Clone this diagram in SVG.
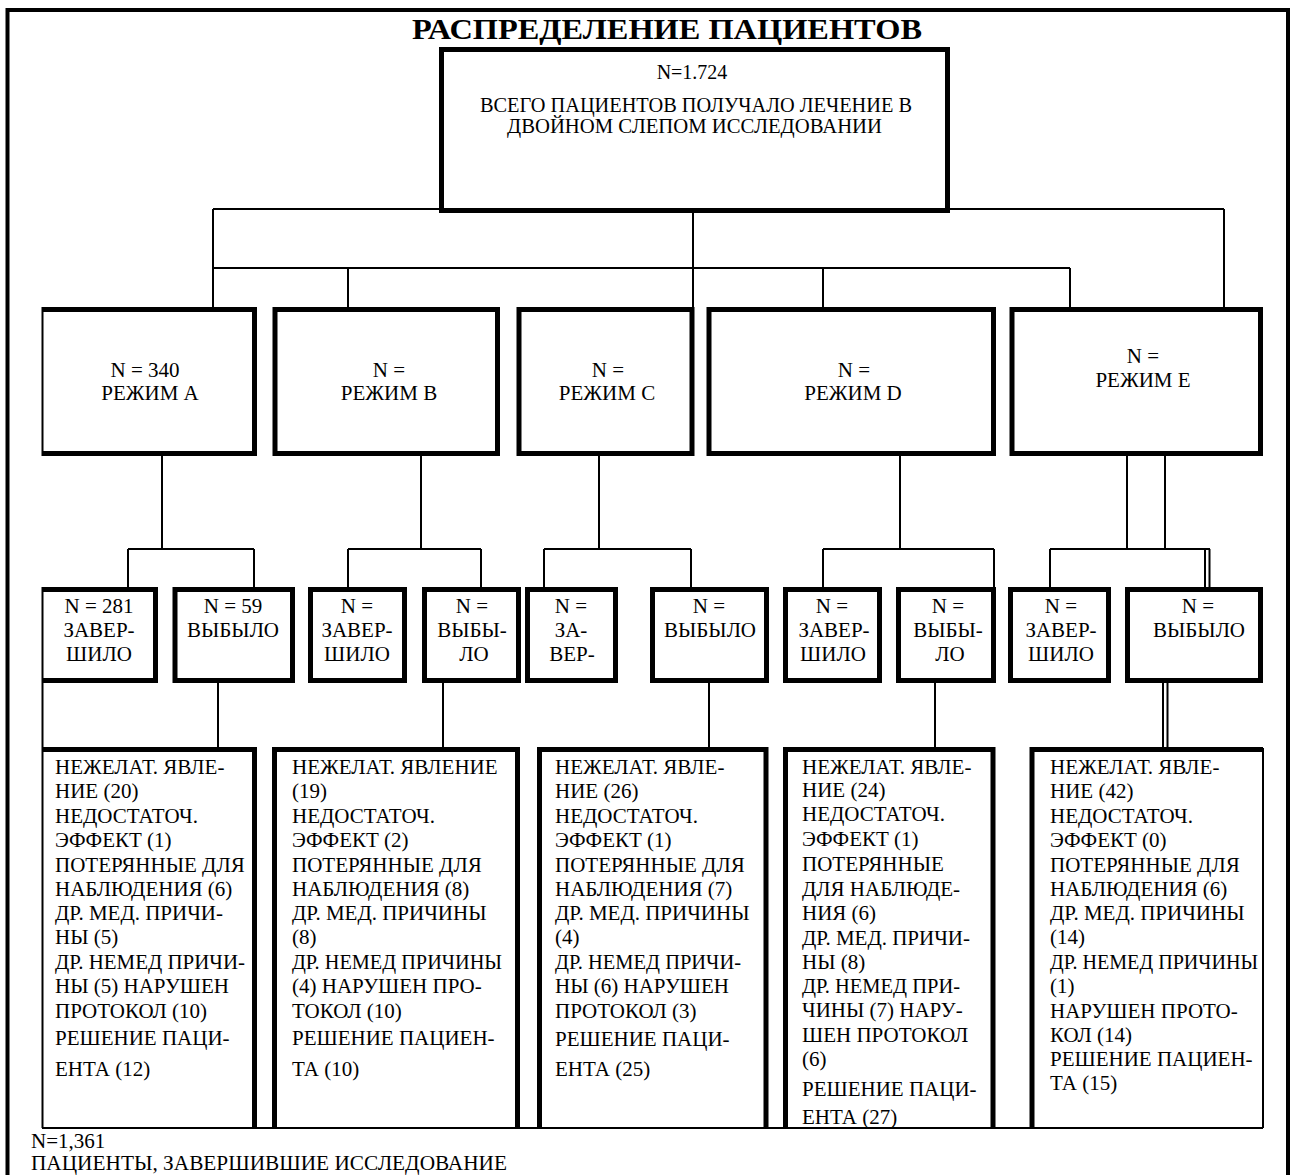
<svg xmlns="http://www.w3.org/2000/svg" width="1293" height="1175" viewBox="0 0 1293 1175">
<style>
text{font-family:"Liberation Serif","Times New Roman",serif;fill:#000}
.t{font-size:21px}
.m{text-anchor:middle}
.title{font-size:30px;font-weight:bold;text-anchor:middle}
.thick{fill:none;stroke:#000;stroke-width:5;stroke-linejoin:miter}
.thin{fill:none;stroke:#000;stroke-width:2}
.frame{fill:none;stroke:#000;stroke-width:4}
</style>
<rect x="0" y="0" width="1293" height="1175" fill="#fff"/>
<path class="frame" d="M7.5,1175 V10 H1288 V1175"/>
<text class="title" x="667" y="39" textLength="510" lengthAdjust="spacingAndGlyphs">РАСПРЕДЕЛЕНИЕ ПАЦИЕНТОВ</text>

<g id="connectors">
<path class="thin" d="M213,209 H1224 M213,209 V307 M1224,209 V307 M693,209 V307 M213,268 H1070 M348,268 V307 M823,268 V307 M1070,268 V307"/>
<path class="thin" d="M162,456 V549 M128,549 H254 M128,549 V587 M254,549 V587"/>
<path class="thin" d="M421,456 V549 M348,549 H481 M348,549 V587 M481,549 V587"/>
<path class="thin" d="M599,456 V549 M544,549 H691 M544,549 V587 M691,549 V587"/>
<path class="thin" d="M900,456 V549 M823,549 H994 M823,549 V587 M994,549 V587"/>
<path class="thin" d="M1127,456 V549 M1165,456 V549 M1050,549 H1210 M1050,549 V587 M1205,549 V587 M1209.5,549 V587"/>
<path class="thin" d="M218,683 V747 M443,683 V747 M709,683 V747 M935,683 V747 M1163,683 V747 M1167.5,683 V747"/>
<path class="thin" d="M42.5,307 V456 M42.5,587 V1128 M42,1128 H1263"/>
</g>

<g id="top">
<rect class="thick" x="441.5" y="49.5" width="506" height="161"/>
<text class="t m" x="692" y="79" style="font-size:20px">N=1.724</text>
<text class="t" x="480" y="112" style="font-size:20px" textLength="432" lengthAdjust="spacingAndGlyphs">ВСЕГО ПАЦИЕНТОВ ПОЛУЧАЛО ЛЕЧЕНИЕ В</text>
<text class="t" x="507" y="133" style="font-size:20px" textLength="375" lengthAdjust="spacingAndGlyphs">ДВОЙНОМ СЛЕПОМ ИССЛЕДОВАНИИ</text>
</g>

<g id="regA">
<path class="thick" d="M42,309.5 H254.5 V453.5 H42"/>
<text class="t m" x="145" y="377">N = 340</text>
<text class="t m" x="150" y="400">РЕЖИМ А</text>
</g>
<g id="regB">
<rect class="thick" x="275" y="309.5" width="222.5" height="144"/>
<text class="t m" x="389" y="377">N =</text>
<text class="t m" x="389" y="400">РЕЖИМ B</text>
</g>
<g id="regC">
<rect class="thick" x="519" y="309.5" width="173" height="144"/>
<text class="t m" x="608" y="377">N =</text>
<text class="t m" x="607" y="400">РЕЖИМ C</text>
</g>
<g id="regD">
<rect class="thick" x="709" y="309.5" width="284.5" height="144"/>
<text class="t m" x="854" y="377">N =</text>
<text class="t m" x="853" y="400">РЕЖИМ D</text>
</g>
<g id="regE">
<rect class="thick" x="1012" y="309.5" width="248.5" height="144"/>
<text class="t m" x="1143" y="363">N =</text>
<text class="t m" x="1143" y="387">РЕЖИМ E</text>
</g>

<g id="subA1">
<path class="thick" d="M42,589.5 H155.5 V680.5 H42"/>
<text class="t m" x="99" y="613">N = 281</text>
<text class="t m" x="99" y="637">ЗАВЕР-</text>
<text class="t m" x="99" y="661">ШИЛО</text>
</g>
<g id="subA2">
<rect class="thick" x="175" y="589.5" width="117.5" height="91"/>
<text class="t m" x="233" y="613">N = 59</text>
<text class="t m" x="233" y="637">ВЫБЫЛО</text>
</g>
<g id="subB1">
<rect class="thick" x="310.5" y="589.5" width="94" height="91"/>
<text class="t m" x="357" y="613">N =</text>
<text class="t m" x="357" y="637">ЗАВЕР-</text>
<text class="t m" x="357" y="661">ШИЛО</text>
</g>
<g id="subB2">
<rect class="thick" x="424.5" y="589.5" width="94" height="91"/>
<text class="t m" x="472" y="613">N =</text>
<text class="t m" x="472" y="637">ВЫБЫ-</text>
<text class="t m" x="474" y="661">ЛО</text>
</g>
<g id="subC1">
<rect class="thick" x="527.5" y="589.5" width="88" height="91"/>
<text class="t m" x="571" y="613">N =</text>
<text class="t m" x="571" y="637">ЗА-</text>
<text class="t m" x="572" y="661">ВЕР-</text>
</g>
<g id="subC2">
<rect class="thick" x="652.5" y="589.5" width="114" height="91"/>
<text class="t m" x="709" y="613">N =</text>
<text class="t m" x="710" y="637">ВЫБЫЛО</text>
</g>
<g id="subD1">
<rect class="thick" x="785.5" y="589.5" width="94" height="91"/>
<text class="t m" x="832" y="613">N =</text>
<text class="t m" x="834" y="637">ЗАВЕР-</text>
<text class="t m" x="833" y="661">ШИЛО</text>
</g>
<g id="subD2">
<rect class="thick" x="898.5" y="589.5" width="95" height="91"/>
<text class="t m" x="948" y="613">N =</text>
<text class="t m" x="948" y="637">ВЫБЫ-</text>
<text class="t m" x="950" y="661">ЛО</text>
</g>
<g id="subE1">
<rect class="thick" x="1010.5" y="589.5" width="98" height="91"/>
<text class="t m" x="1061" y="613">N =</text>
<text class="t m" x="1061" y="637">ЗАВЕР-</text>
<text class="t m" x="1061" y="661">ШИЛО</text>
</g>
<g id="subE2">
<rect class="thick" x="1127.5" y="589.5" width="133" height="91"/>
<text class="t m" x="1198" y="613">N =</text>
<text class="t m" x="1199" y="637">ВЫБЫЛО</text>
</g>

<g id="detA">
<path class="thick" d="M42,749.5 H254.5 V1128"/>
<text class="t">
<tspan x="55" y="774">НЕЖЕЛАТ. ЯВЛЕ-</tspan>
<tspan x="55" y="798">НИЕ (20)</tspan>
<tspan x="55" y="823">НЕДОСТАТОЧ.</tspan>
<tspan x="55" y="847">ЭФФЕКТ (1)</tspan>
<tspan x="55" y="872">ПОТЕРЯННЫЕ ДЛЯ</tspan>
<tspan x="55" y="896">НАБЛЮДЕНИЯ (6)</tspan>
<tspan x="55" y="920">ДР. МЕД. ПРИЧИ-</tspan>
<tspan x="55" y="944">НЫ (5)</tspan>
<tspan x="55" y="993">НЫ (5) НАРУШЕН</tspan>
<tspan x="55" y="1018">ПРОТОКОЛ (10)</tspan>
<tspan x="55" y="1045">РЕШЕНИЕ ПАЦИ-</tspan>
<tspan x="55" y="1076">ЕНТА (12)</tspan>
</text>
<text class="t" x="55" y="969" textLength="190" lengthAdjust="spacingAndGlyphs">ДР. НЕМЕД ПРИЧИ-</text>
</g>
<g id="detB">
<path class="thick" d="M274.5,1128 V749.5 H517.5 V1128"/>
<text class="t">
<tspan x="292" y="774">НЕЖЕЛАТ. ЯВЛЕНИЕ</tspan>
<tspan x="292" y="798">(19)</tspan>
<tspan x="292" y="823">НЕДОСТАТОЧ.</tspan>
<tspan x="292" y="847">ЭФФЕКТ (2)</tspan>
<tspan x="292" y="872">ПОТЕРЯННЫЕ ДЛЯ</tspan>
<tspan x="292" y="896">НАБЛЮДЕНИЯ (8)</tspan>
<tspan x="292" y="920">ДР. МЕД. ПРИЧИНЫ</tspan>
<tspan x="292" y="944">(8)</tspan>
<tspan x="292" y="993">(4) НАРУШЕН ПРО-</tspan>
<tspan x="292" y="1018">ТОКОЛ (10)</tspan>
<tspan x="292" y="1045">РЕШЕНИЕ ПАЦИЕН-</tspan>
<tspan x="292" y="1076">ТА (10)</tspan>
</text>
<text class="t" x="292" y="969" textLength="210" lengthAdjust="spacingAndGlyphs">ДР. НЕМЕД ПРИЧИНЫ</text>
</g>
<g id="detC">
<path class="thick" d="M539.5,1128 V749.5 H766 V1128"/>
<text class="t">
<tspan x="555" y="774">НЕЖЕЛАТ. ЯВЛЕ-</tspan>
<tspan x="555" y="798">НИЕ (26)</tspan>
<tspan x="555" y="823">НЕДОСТАТОЧ.</tspan>
<tspan x="555" y="847">ЭФФЕКТ (1)</tspan>
<tspan x="555" y="872">ПОТЕРЯННЫЕ ДЛЯ</tspan>
<tspan x="555" y="896">НАБЛЮДЕНИЯ (7)</tspan>
<tspan x="555" y="920">ДР. МЕД. ПРИЧИНЫ</tspan>
<tspan x="555" y="944">(4)</tspan>
<tspan x="555" y="993">НЫ (6) НАРУШЕН</tspan>
<tspan x="555" y="1018">ПРОТОКОЛ (3)</tspan>
<tspan x="555" y="1046">РЕШЕНИЕ ПАЦИ-</tspan>
<tspan x="555" y="1076">ЕНТА (25)</tspan>
</text>
<text class="t" x="555" y="969" textLength="186" lengthAdjust="spacingAndGlyphs">ДР. НЕМЕД ПРИЧИ-</text>
</g>
<g id="detD">
<path class="thick" d="M785.5,1128 V749.5 H993 V1128"/>
<text class="t">
<tspan x="802" y="774">НЕЖЕЛАТ. ЯВЛЕ-</tspan>
<tspan x="802" y="797">НИЕ (24)</tspan>
<tspan x="802" y="821">НЕДОСТАТОЧ.</tspan>
<tspan x="802" y="846">ЭФФЕКТ (1)</tspan>
<tspan x="802" y="871">ПОТЕРЯННЫЕ</tspan>
<tspan x="802" y="896">ДЛЯ НАБЛЮДЕ-</tspan>
<tspan x="802" y="920">НИЯ (6)</tspan>
<tspan x="802" y="945">ДР. МЕД. ПРИЧИ-</tspan>
<tspan x="802" y="969">НЫ (8)</tspan>
<tspan x="802" y="1017">ЧИНЫ (7) НАРУ-</tspan>
<tspan x="802" y="1042">ШЕН ПРОТОКОЛ</tspan>
<tspan x="802" y="1066">(6)</tspan>
<tspan x="802" y="1096">РЕШЕНИЕ ПАЦИ-</tspan>
<tspan x="802" y="1124">ЕНТА (27)</tspan>
</text>
<text class="t" x="802" y="993" textLength="158" lengthAdjust="spacingAndGlyphs">ДР. НЕМЕД ПРИ-</text>
</g>
<g id="detE">
<path class="thick" d="M1032,1128 V749.5 H1263"/>
<path class="thin" d="M1263,748 V1128"/>
<text class="t">
<tspan x="1050" y="774">НЕЖЕЛАТ. ЯВЛЕ-</tspan>
<tspan x="1050" y="798">НИЕ (42)</tspan>
<tspan x="1050" y="823">НЕДОСТАТОЧ.</tspan>
<tspan x="1050" y="847">ЭФФЕКТ (0)</tspan>
<tspan x="1050" y="872">ПОТЕРЯННЫЕ ДЛЯ</tspan>
<tspan x="1050" y="896">НАБЛЮДЕНИЯ (6)</tspan>
<tspan x="1050" y="920">ДР. МЕД. ПРИЧИНЫ</tspan>
<tspan x="1050" y="944">(14)</tspan>
<tspan x="1050" y="993">(1)</tspan>
<tspan x="1050" y="1018">НАРУШЕН ПРОТО-</tspan>
<tspan x="1050" y="1042">КОЛ (14)</tspan>
<tspan x="1050" y="1066">РЕШЕНИЕ ПАЦИЕН-</tspan>
<tspan x="1050" y="1090">ТА (15)</tspan>
</text>
<text class="t" x="1050" y="969" textLength="208" lengthAdjust="spacingAndGlyphs">ДР. НЕМЕД ПРИЧИНЫ</text>
</g>

<g id="footer">
<text class="t" x="31" y="1148">N=1,361</text>
<text class="t" x="31" y="1170" textLength="476" lengthAdjust="spacingAndGlyphs">ПАЦИЕНТЫ, ЗАВЕРШИВШИЕ ИССЛЕДОВАНИЕ</text>
</g>
</svg>
